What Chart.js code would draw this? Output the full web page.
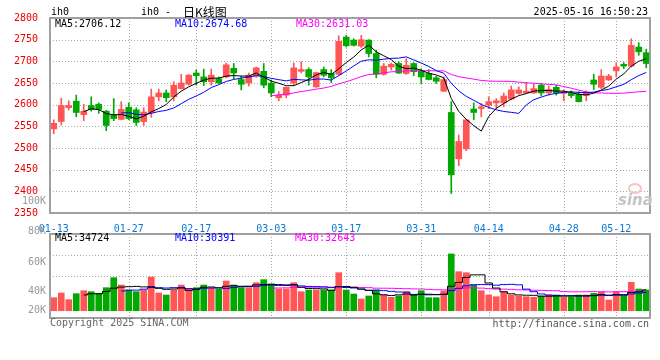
<!DOCTYPE html>
<html><head><meta charset="utf-8">
<script src="https://cdn.jsdelivr.net/npm/chart.js@4"></script>
<style>
html,body{margin:0;padding:0;background:#fff;}
#wrap{position:relative;width:660px;height:360px;overflow:hidden;background:#fff;}
canvas{position:absolute;left:0;}
.t{position:absolute;font-family:'DejaVu Sans Mono',monospace;font-size:10px;line-height:12px;white-space:pre;}
.r{text-align:right;}
</style></head><body>
<div id="wrap">
<canvas id="main" width="660" height="232" style="top:0;width:660px;height:232px"></canvas>
<canvas id="vol" width="660" height="100" style="top:230px;width:660px;height:100px"></canvas>
<div class="t" style="left:51px;top:6px;color:#000">ih0</div>
<div class="t" style="left:141px;top:6px;color:#000">ih0 - </div>
<div class="t" style="left:183px;top:4px;font-family:'Noto Sans CJK SC';font-size:12px;line-height:15px;color:#000">日K线图</div>
<div class="t r" style="right:12px;top:6px;color:#000">2025-05-16 16:50:23</div>
<div class="t" style="left:55px;top:18px;color:#000">MA5:2706.12</div>
<div class="t" style="left:175px;top:18px;color:#0000ff">MA10:2674.68</div>
<div class="t" style="left:296px;top:18px;color:#ff00ff">MA30:2631.03</div>
<div class="t r" style="right:614px;top:195px;color:#999">100K</div>
<div class="t r" style="right:614px;top:225px;color:#999">80K</div>
<div class="t r" style="right:614px;top:256px;color:#999">60K</div>
<div class="t r" style="right:614px;top:285px;color:#999">40K</div>
<div class="t r" style="right:614px;top:304px;color:#999">20K</div>
<div class="t" style="left:55px;top:232px;color:#000">MA5:34724</div>
<div class="t" style="left:175px;top:232px;color:#0000ff">MA10:30391</div>
<div class="t" style="left:295px;top:232px;color:#ff00ff">MA30:32643</div>
<div class="t" style="left:50px;top:317px;color:#666">Copyright 2025 SINA.COM</div>
<div class="t r" style="right:11px;top:318px;color:#555">http://finance.sina.com.cn</div>
<div style="position:absolute;left:628px;top:183px;width:10px;height:7px;border:2px solid #f6c6c6;border-radius:50%"></div>
<div class="t" style="left:618px;top:192px;font-family:'DejaVu Sans';font-style:italic;font-weight:bold;font-size:15px;line-height:16px;color:#c4c4c4">sina</div>
</div>
<script>
const dates = ['01-13','01-14','01-15','01-16','01-17','01-20','01-21','01-22','01-23','01-24','01-27','02-05','02-06','02-07','02-10','02-11','02-12','02-13','02-14','02-17','02-18','02-19','02-20','02-21','02-24','02-25','02-26','02-27','02-28','03-03','03-04','03-05','03-06','03-07','03-10','03-11','03-12','03-13','03-14','03-17','03-18','03-19','03-20','03-21','03-24','03-25','03-26','03-27','03-28','03-31','04-01','04-02','04-03','04-07','04-08','04-09','04-10','04-11','04-14','04-15','04-16','04-17','04-18','04-21','04-22','04-23','04-24','04-25','04-28','04-29','04-30','05-06','05-07','05-08','05-09','05-12','05-13','05-14','05-15','05-16'];

const tickLabels = ['01-13','01-27','02-17','03-03','03-17','03-31','04-14','04-28','05-12'];
const priceTicks = [2350,2400,2450,2500,2550,2600,2650,2700,2750,2800];

const opens = [2544,2561,2593,2608,2577,2598,2601,2585,2576,2566,
 2594,2588,2561,2582,2618,2627,2618,2637,2647,2673,
 2664,2653,2660,2664,2684,2658,2650,2666,2677,2650,
 2616,2622,2650,2677,2681,2641,2681,2672,2670,2756,
 2749,2735,2749,2718,2670,2687,2695,2672,2695,2678,
 2672,2662,2631,2582,2475,2498,2590,2591,2599,2604,
 2604,2613,2626,2627,2627,2645,2627,2640,2626,2626,
 2624,2621,2657,2640,2657,2678,2693,2689,2733,2720];

const highs = [2565,2615,2609,2622,2601,2618,2604,2587,2614,2607,
 2604,2593,2593,2636,2636,2634,2653,2670,2670,2680,
 2682,2682,2664,2696,2695,2666,2673,2687,2695,2657,
 2630,2641,2696,2699,2685,2675,2687,2681,2759,2760,
 2752,2760,2750,2726,2695,2696,2699,2706,2697,2683,
 2681,2666,2664,2607,2530,2566,2604,2603,2618,2614,
 2627,2643,2641,2651,2647,2649,2643,2645,2634,2632,
 2630,2632,2670,2681,2670,2697,2697,2752,2743,2728];

const lows = [2533,2553,2588,2572,2563,2585,2580,2540,2563,2565,
 2565,2552,2552,2571,2609,2607,2609,2636,2645,2645,
 2644,2645,2649,2662,2660,2634,2643,2663,2639,2618,
 2609,2616,2645,2673,2645,2640,2664,2651,2668,2733,
 2735,2732,2710,2662,2668,2680,2672,2670,2667,2649,
 2657,2649,2630,2395,2459,2494,2565,2572,2591,2591,
 2595,2611,2624,2626,2626,2621,2622,2622,2609,2616,
 2606,2609,2635,2637,2656,2664,2683,2687,2714,2685];

const closes = [2557,2598,2598,2582,2585,2589,2589,2552,2568,2589,
 2568,2559,2583,2618,2627,2616,2645,2650,2668,2667,
 2653,2668,2650,2692,2673,2647,2668,2685,2645,2627,
 2622,2640,2685,2681,2664,2674,2668,2662,2746,2736,
 2737,2750,2718,2670,2689,2693,2673,2691,2676,2664,
 2658,2654,2658,2438,2515,2565,2582,2595,2607,2609,
 2620,2634,2634,2631,2637,2627,2635,2627,2630,2621,
 2607,2628,2647,2666,2666,2687,2689,2737,2722,2695];

const ma5 = [null,null,null,null,2584.0,2590.4,2588.6,2579.4,2576.6,2577.4,
 2573.2,2567.2,2573.4,2583.4,2591.0,2600.6,2617.8,2631.2,2641.2,2649.2,
 2656.6,2661.2,2661.2,2666.0,2667.2,2666.0,2666.0,2673.0,2663.6,2654.4,
 2649.4,2643.8,2643.8,2651.0,2658.4,2668.8,2674.4,2669.8,2682.8,2697.2,
 2709.8,2726.2,2737.4,2722.2,2712.8,2704.0,2688.6,2683.2,2684.4,2679.4,
 2672.4,2668.6,2662.0,2614.4,2584.6,2566.0,2551.6,2539.0,2572.8,2591.6,
 2602.6,2613.0,2620.8,2625.6,2631.2,2632.6,2632.8,2631.4,2631.2,2628.0,
 2624.0,2622.6,2626.6,2633.8,2642.8,2658.8,2671.0,2689.0,2700.2,2706.0];

const ma10 = [null,null,null,null,null,null,null,null,null,2580.7,
 2581.8,2577.9,2576.4,2580.0,2584.2,2586.9,2592.5,2602.3,2612.3,2620.1,
 2628.6,2639.5,2646.2,2653.6,2658.2,2661.3,2663.6,2667.1,2664.8,2660.8,
 2657.7,2654.9,2658.4,2657.3,2656.4,2659.1,2659.1,2656.8,2666.9,2677.8,
 2689.3,2700.3,2703.6,2702.5,2705.0,2706.9,2707.4,2710.3,2703.3,2696.1,
 2688.2,2678.6,2672.6,2649.4,2632.0,2619.2,2610.1,2600.5,2593.6,2588.1,
 2584.3,2582.3,2579.9,2599.2,2611.4,2617.6,2622.9,2626.1,2628.4,2629.6,
 2628.3,2627.7,2629.0,2632.5,2635.4,2641.4,2646.8,2657.8,2667.0,2674.4];

const ma30 = [null,null,null,null,null,null,null,null,null,null,
 null,null,null,null,null,null,null,null,null,null,
 null,null,null,null,null,null,null,null,null,2620.5,
 2622.7,2624.1,2627.0,2630.3,2632.9,2635.8,2638.4,2642.1,2648.0,2652.9,
 2658.5,2664.9,2669.4,2671.1,2673.2,2675.8,2676.7,2678.1,2678.3,2678.2,
 2678.4,2677.9,2678.2,2669.7,2664.5,2661.7,2658.9,2655.9,2654.6,2654.0,
 2653.9,2653.7,2652.0,2650.4,2649.5,2647.9,2646.8,2645.6,2641.8,2637.9,
 2633.6,2629.5,2627.2,2627.0,2626.3,2626.1,2626.6,2628.1,2629.7,2630.7];

// volume in thousands
const volumes = [21.5,29.2,18.2,28.1,33.0,31.4,28.7,38.0,54.5,42.4,
 34.2,31.4,34.2,55.6,29.2,25.9,34.2,42.4,35.8,38.0,
 42.4,37.0,35.3,49.0,42.4,38.0,38.0,46.2,51.2,44.1,
 35.8,35.8,46.2,31.4,34.2,34.2,34.2,34.2,62.7,34.2,
 27.6,19.3,24.3,34.2,25.9,22.1,24.3,31.4,25.9,33.0,
 21.5,21.5,32.5,93.6,64.4,62.7,42.4,33.0,25.9,23.1,
 31.4,25.9,24.3,23.1,22.1,24.3,25.9,25.9,22.1,23.1,
 25.9,25.9,28.7,30.4,17.7,30.4,24.8,46.9,35.8,34.2];

const volMa5 = [null,null,null,null,26.0,28.0,27.9,31.8,37.1,39.0,
 39.6,40.1,39.3,39.6,36.9,35.3,35.8,37.5,33.5,35.3,
 38.6,39.1,37.7,40.3,41.2,40.3,40.5,42.7,43.2,43.5,
 43.1,42.6,42.6,38.7,36.7,36.4,36.0,33.6,39.9,39.9,
 38.6,35.6,33.6,27.9,26.3,25.2,26.2,27.6,25.9,27.3,
 27.2,26.7,26.9,40.4,46.7,54.9,59.1,59.2,45.7,37.4,
 31.2,27.9,26.1,25.6,25.4,23.9,23.9,24.3,24.1,24.3,
 24.6,24.6,25.1,26.8,25.7,26.6,26.4,30.0,31.1,34.4];

const volMa10 = [null,null,null,null,null,null,null,null,null,32.5,
 33.8,34.0,35.6,38.3,38.0,37.4,38.0,38.4,36.5,36.1,
 36.9,37.5,37.6,36.9,38.2,39.5,39.8,40.2,41.8,42.4,
 41.7,41.6,42.7,40.9,40.1,39.7,39.3,38.1,39.3,38.3,
 37.5,35.8,33.6,33.9,33.1,31.9,30.9,30.6,26.9,26.8,
 26.2,26.4,27.2,33.2,37.0,41.1,42.9,43.1,43.1,42.1,
 43.1,43.5,42.7,35.6,31.4,27.6,25.9,25.2,24.8,24.8,
 24.3,24.3,24.7,25.4,25.0,25.6,25.5,27.6,29.0,30.1];

const volMa30 = [null,null,null,null,null,null,null,null,null,null,
 null,null,null,null,null,null,null,null,null,null,
 null,null,null,null,null,null,null,null,null,37.0,
 37.5,37.7,38.6,38.7,38.8,38.9,39.0,38.9,39.2,38.9,
 38.7,38.3,38.0,37.2,37.1,37.0,36.7,36.3,36.0,35.8,
 35.1,34.6,34.5,36.0,36.7,37.6,37.7,37.3,36.4,35.7,
 35.6,35.2,34.5,34.2,33.8,33.5,33.2,32.9,31.6,31.2,
 31.2,31.4,31.5,31.4,31.1,31.4,31.4,31.9,32.3,32.3];

const UP = '#ff5555', DOWN = '#00a800', GRID = '#a8a8a8';
const candleColors = closes.map((c, i) => c >= opens[i] ? UP : DOWN);
const gridIdx = tickLabels.slice(1).map(l => dates.indexOf(l));
const MONO = {family: "'DejaVu Sans Mono', monospace", size: 10};

const frame = {
  id: 'frame',
  beforeDatasetsDraw(c, args, opts) {
    const a = c.chartArea, x = c.ctx;
    x.save(); x.strokeStyle = GRID; x.lineWidth = 1; x.setLineDash([1, 2]);
    (opts.yValues || []).forEach(v => {
      const py = Math.round(c.scales.y.getPixelForValue(v)) + 0.5;
      x.beginPath(); x.moveTo(a.left, py); x.lineTo(a.right, py); x.stroke();
    });
    gridIdx.forEach(i => {
      const px = Math.round(c.scales.x.getPixelForValue(i)) + 0.5;
      x.beginPath(); x.moveTo(px, a.top); x.lineTo(px, a.bottom); x.stroke();
    });
    x.restore();
  },
  afterDatasetsDraw(c) {
    const a = c.chartArea, x = c.ctx;
    x.save(); x.strokeStyle = '#a0a0a0'; x.lineWidth = 2;
    x.strokeRect(a.left, a.top, a.right - a.left, a.bottom - a.top);
    x.restore();
  }
};

function lineDs(data, color, stepped) {
  return {type: 'line', data, borderColor: color, borderWidth: 1, pointRadius: 0,
    tension: 0, spanGaps: false, stepped: stepped || false, order: 0};
}

new Chart(document.getElementById('main'), {
  type: 'bar',
  data: {
    labels: dates,
    datasets: [
      lineDs(ma5, '#000000'),
      lineDs(ma10, '#0000ff'),
      lineDs(ma30, '#ff00ff'),
      {data: opens.map((o, i) => [o, closes[i]]), backgroundColor: candleColors,
       barThickness: 6, grouped: false, minBarLength: 1, borderWidth: 0, order: 1},
      {data: lows.map((l, i) => [l, highs[i]]), backgroundColor: candleColors,
       barThickness: 1, grouped: false, borderWidth: 0, order: 2}
    ]
  },
  options: {
    responsive: false, animation: false, devicePixelRatio: 1,
    layout: {padding: {left: 0, right: 10, top: 18, bottom: 0}},
    plugins: {legend: {display: false}, tooltip: {enabled: false},
      frame: {yValues: priceTicks.slice(1, -1)}},
    scales: {
      x: {
        offset: true,
        grid: {display: false},
        border: {display: false},
        ticks: {autoSkip: false, maxRotation: 0, minRotation: 0, padding: 2,
          color: '#0a78d2', font: MONO,
          callback: (v, i) => tickLabels.includes(dates[i]) ? dates[i] : ''},
        afterFit: s => { s.height = 19; }
      },
      y: {
        min: priceTicks[0], max: priceTicks[priceTicks.length - 1],
        afterBuildTicks: s => { s.ticks = priceTicks.map(v => ({value: v})); },
        grid: {display: false},
        border: {display: false},
        ticks: {color: '#ee0000', font: MONO, padding: 4, callback: v => String(v)},
        afterFit: s => { s.width = 50; }
      }
    }
  },
  plugins: [frame]
});

new Chart(document.getElementById('vol'), {
  type: 'bar',
  data: {
    labels: dates,
    datasets: [
      lineDs(volMa5, '#000000', 'middle'),
      lineDs(volMa10, '#0000ff', 'middle'),
      lineDs(volMa30, '#ff00ff', 'middle'),
      {data: volumes, backgroundColor: candleColors, barThickness: 6, borderWidth: 0, order: 1}
    ]
  },
  options: {
    responsive: false, animation: false, devicePixelRatio: 1,
    layout: {padding: {left: 0, right: 10, top: 4, bottom: 12}},
    plugins: {legend: {display: false}, tooltip: {enabled: false},
      frame: {yValues: [57.8, 91.9]}},
    scales: {
      x: {
        offset: true,
        grid: {display: false},
        border: {display: false},
        ticks: {display: false, autoSkip: false},
        afterFit: s => { s.height = 0; }
      },
      y: {
        min: -12, max: 126.5,
        grid: {display: false},
        border: {display: false},
        ticks: {display: false},
        afterFit: s => { s.width = 50; }
      }
    }
  },
  plugins: [frame]
});
</script>
</body></html>
